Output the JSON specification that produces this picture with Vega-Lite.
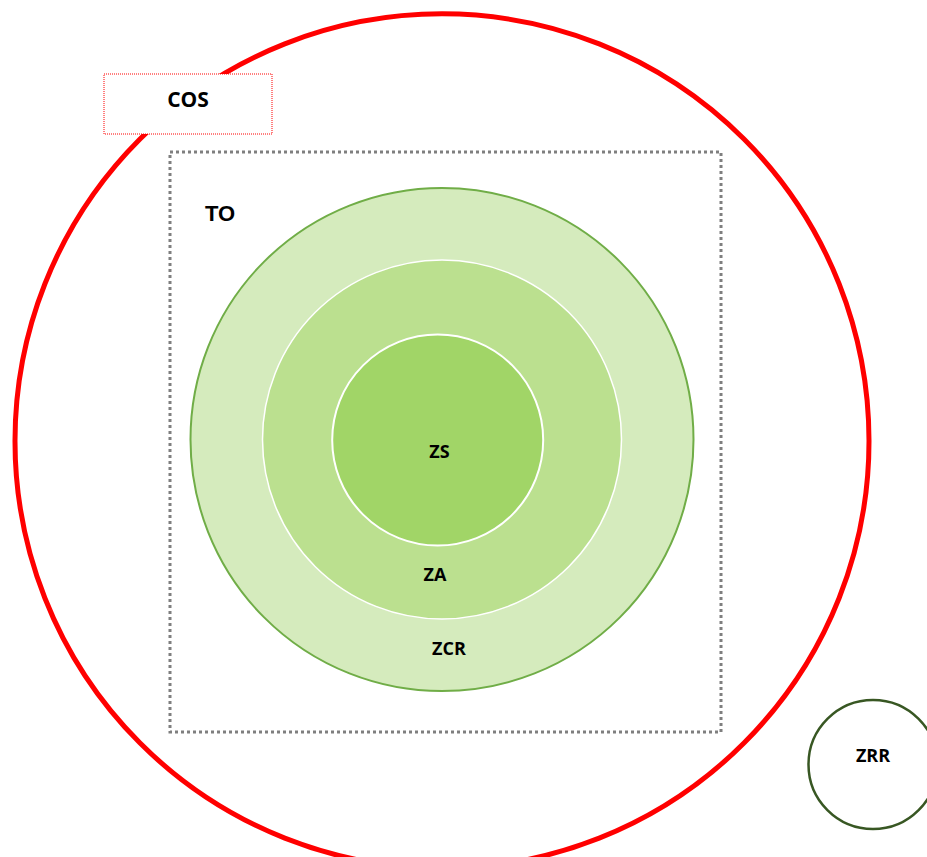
{
  "$schema": "https://vega.github.io/schema/vega-lite/v6.json",
  "width": 927,
  "height": 857,
  "padding": 0,
  "autosize": {"type": "none"},
  "background": "white",
  "config": {"view": {"stroke": null}},
  "datasets": {
    "zones": [
      {"zone": "COS", "x": 442, "y": 441, "d": 854},
      {"zone": "ZCR", "x": 442, "y": 439.5, "d": 503},
      {"zone": "ZA", "x": 442, "y": 439.5, "d": 359},
      {"zone": "ZS", "x": 437.7, "y": 440, "d": 211},
      {"zone": "ZRR", "x": 873, "y": 764.5, "d": 129}
    ],
    "boxes": [
      {"name": "TO", "x": 170, "x2": 721, "y": 152, "y2": 732},
      {"name": "COS", "x": 104, "x2": 272, "y": 74, "y2": 134}
    ],
    "labels": [
      {"text": "COS", "x": 188, "y": 100.5, "grp": "a"},
      {"text": "TO", "x": 220, "y": 214, "grp": "b"},
      {"text": "ZS", "x": 439.5, "y": 452.5, "grp": "c"},
      {"text": "ZA", "x": 435, "y": 575.5, "grp": "c"},
      {"text": "ZCR", "x": 449, "y": 649.5, "grp": "c"},
      {"text": "ZRR", "x": 873, "y": 757, "grp": "c"}
    ]
  },
  "layer": [
    {
      "data": {"name": "zones"},
      "transform": [{"filter": "datum.zone == 'COS'"}],
      "mark": {"type": "point", "shape": "circle", "filled": false, "stroke": "#ff0000", "strokeWidth": 5, "opacity": 1, "clip": true},
      "encoding": {
        "x": {"field": "x", "type": "quantitative", "scale": {"domain": [0, 927]}, "axis": null},
        "y": {"field": "y", "type": "quantitative", "scale": {"domain": [0, 857], "reverse": true}, "axis": null},
        "size": {"field": "d", "type": "quantitative", "scale": {"type": "pow", "exponent": 2, "domain": [0, 1000], "range": [0, 1000000]}, "legend": null}
      }
    },
    {
      "data": {"name": "zones"},
      "transform": [{"filter": "datum.zone == 'ZCR'"}],
      "mark": {"type": "point", "shape": "circle", "filled": true, "fill": "#d5ebbd", "stroke": "#70ad47", "strokeWidth": 2, "opacity": 1, "fillOpacity": 1, "strokeOpacity": 1},
      "encoding": {
        "x": {"field": "x", "type": "quantitative", "scale": {"domain": [0, 927]}, "axis": null},
        "y": {"field": "y", "type": "quantitative", "scale": {"domain": [0, 857], "reverse": true}, "axis": null},
        "size": {"field": "d", "type": "quantitative", "scale": {"type": "pow", "exponent": 2, "domain": [0, 1000], "range": [0, 1000000]}, "legend": null}
      }
    },
    {
      "data": {"name": "zones"},
      "transform": [{"filter": "datum.zone == 'ZA'"}],
      "mark": {"type": "point", "shape": "circle", "filled": true, "fill": "#bbe08f", "stroke": "#ffffff", "strokeWidth": 1.5, "opacity": 1, "fillOpacity": 1, "strokeOpacity": 1},
      "encoding": {
        "x": {"field": "x", "type": "quantitative", "scale": {"domain": [0, 927]}, "axis": null},
        "y": {"field": "y", "type": "quantitative", "scale": {"domain": [0, 857], "reverse": true}, "axis": null},
        "size": {"field": "d", "type": "quantitative", "scale": {"type": "pow", "exponent": 2, "domain": [0, 1000], "range": [0, 1000000]}, "legend": null}
      }
    },
    {
      "data": {"name": "zones"},
      "transform": [{"filter": "datum.zone == 'ZS'"}],
      "mark": {"type": "point", "shape": "circle", "filled": true, "fill": "#a1d567", "stroke": "#ffffff", "strokeWidth": 2, "opacity": 1, "fillOpacity": 1, "strokeOpacity": 1},
      "encoding": {
        "x": {"field": "x", "type": "quantitative", "scale": {"domain": [0, 927]}, "axis": null},
        "y": {"field": "y", "type": "quantitative", "scale": {"domain": [0, 857], "reverse": true}, "axis": null},
        "size": {"field": "d", "type": "quantitative", "scale": {"type": "pow", "exponent": 2, "domain": [0, 1000], "range": [0, 1000000]}, "legend": null}
      }
    },
    {
      "data": {"name": "zones"},
      "transform": [{"filter": "datum.zone == 'ZRR'"}],
      "mark": {"type": "point", "shape": "circle", "filled": false, "stroke": "#385723", "strokeWidth": 2.5, "opacity": 1, "clip": true},
      "encoding": {
        "x": {"field": "x", "type": "quantitative", "scale": {"domain": [0, 927]}, "axis": null},
        "y": {"field": "y", "type": "quantitative", "scale": {"domain": [0, 857], "reverse": true}, "axis": null},
        "size": {"field": "d", "type": "quantitative", "scale": {"type": "pow", "exponent": 2, "domain": [0, 1000], "range": [0, 1000000]}, "legend": null}
      }
    },
    {
      "data": {"name": "boxes"},
      "transform": [{"filter": "datum.name == 'TO'"}],
      "mark": {"type": "rect", "fill": null, "fillOpacity": 0, "stroke": "#7f7f7f", "strokeWidth": 3, "strokeDash": [3, 3]},
      "encoding": {
        "x": {"field": "x", "type": "quantitative", "scale": {"domain": [0, 927]}, "axis": null},
        "x2": {"field": "x2"},
        "y": {"field": "y", "type": "quantitative", "scale": {"domain": [0, 857], "reverse": true}, "axis": null},
        "y2": {"field": "y2"}
      }
    },
    {
      "data": {"name": "boxes"},
      "transform": [{"filter": "datum.name == 'COS'"}],
      "mark": {"type": "rect", "fill": "#ffffff", "fillOpacity": 1, "stroke": "#ff0000", "strokeWidth": 1, "strokeDash": [1, 1]},
      "encoding": {
        "x": {"field": "x", "type": "quantitative", "scale": {"domain": [0, 927]}, "axis": null},
        "x2": {"field": "x2"},
        "y": {"field": "y", "type": "quantitative", "scale": {"domain": [0, 857], "reverse": true}, "axis": null},
        "y2": {"field": "y2"}
      }
    },
    {
      "data": {"name": "labels"},
      "transform": [{"filter": "datum.grp == 'a'"}],
      "mark": {"type": "text", "font": "Open Sans", "fontWeight": "bold", "fontSize": 21, "align": "center", "baseline": "middle", "color": "#000000"},
      "encoding": {
        "x": {"field": "x", "type": "quantitative", "scale": {"domain": [0, 927]}, "axis": null},
        "y": {"field": "y", "type": "quantitative", "scale": {"domain": [0, 857], "reverse": true}, "axis": null},
        "text": {"field": "text"}
      }
    },
    {
      "data": {"name": "labels"},
      "transform": [{"filter": "datum.grp == 'b'"}],
      "mark": {"type": "text", "font": "Liberation Sans", "fontWeight": "bold", "fontSize": 22, "align": "center", "baseline": "middle", "color": "#000000"},
      "encoding": {
        "x": {"field": "x", "type": "quantitative", "scale": {"domain": [0, 927]}, "axis": null},
        "y": {"field": "y", "type": "quantitative", "scale": {"domain": [0, 857], "reverse": true}, "axis": null},
        "text": {"field": "text"}
      }
    },
    {
      "data": {"name": "labels"},
      "transform": [{"filter": "datum.grp == 'c'"}],
      "mark": {"type": "text", "font": "Open Sans", "fontWeight": "bold", "fontSize": 18, "align": "center", "baseline": "middle", "color": "#000000"},
      "encoding": {
        "x": {"field": "x", "type": "quantitative", "scale": {"domain": [0, 927]}, "axis": null},
        "y": {"field": "y", "type": "quantitative", "scale": {"domain": [0, 857], "reverse": true}, "axis": null},
        "text": {"field": "text"}
      }
    }
  ]
}
